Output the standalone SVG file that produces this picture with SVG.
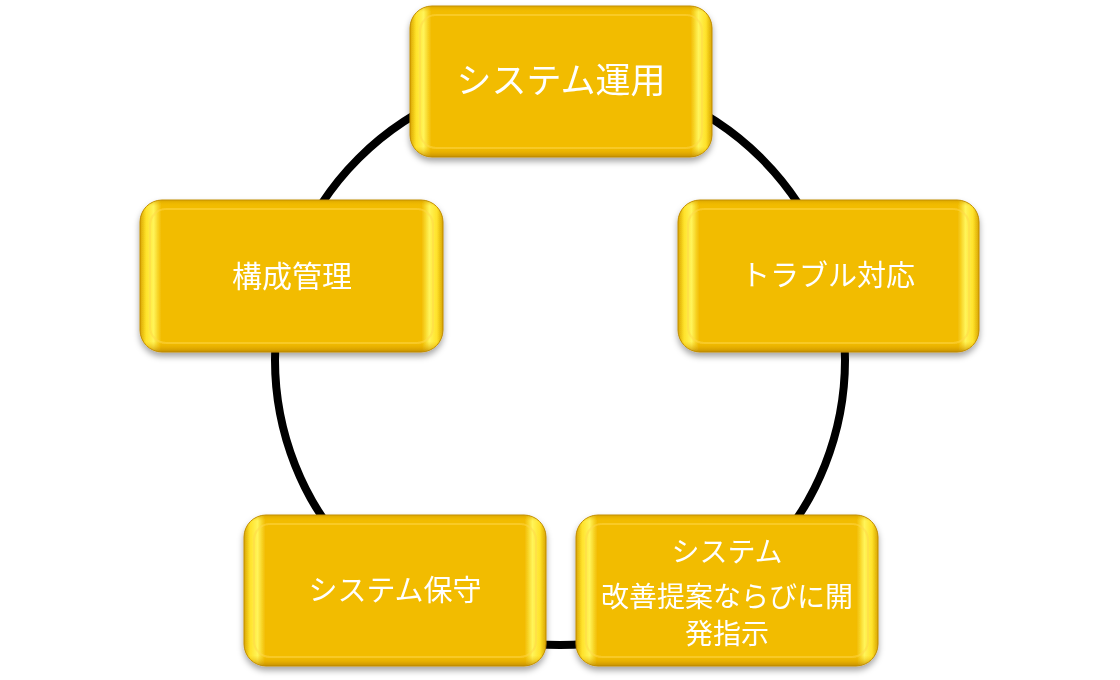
<svg xmlns="http://www.w3.org/2000/svg" width="1120" height="680" viewBox="0 0 1120 680">
<defs>
<linearGradient id="hx" x1="0" y1="0" x2="1" y2="0">
<stop offset="0" stop-color="#D9A500"/>
<stop offset="0.02" stop-color="#FFE22A"/>
<stop offset="0.045" stop-color="#FFF45A"/>
<stop offset="0.07" stop-color="#F2BC00"/>
<stop offset="0.93" stop-color="#F2BC00"/>
<stop offset="0.955" stop-color="#FFF45A"/>
<stop offset="0.98" stop-color="#FFE22A"/>
<stop offset="1" stop-color="#D9A500"/>
</linearGradient>
<linearGradient id="vy" x1="0" y1="0" x2="0" y2="1">
<stop offset="0" stop-color="#C89400" stop-opacity="0.6"/>
<stop offset="0.04" stop-color="#F2BC00" stop-opacity="0"/>
<stop offset="0.93" stop-color="#F2BC00" stop-opacity="0"/>
<stop offset="0.97" stop-color="#D9A000" stop-opacity="0.5"/>
<stop offset="1" stop-color="#B88400" stop-opacity="0.8"/>
</linearGradient>
<filter id="sh" x="-10%" y="-10%" width="120%" height="130%">
<feDropShadow dx="0" dy="4" stdDeviation="3" flood-color="#000" flood-opacity="0.35"/>
</filter>
</defs>
<style>
.box{fill:url(#hx);stroke:#C08C00;stroke-width:1}
.ov{fill:url(#vy)}
.in{fill:none;stroke:#FFD84A;stroke-width:2;stroke-opacity:0.5}
.t{font-family:"Noto Sans CJK JP","Noto Sans",sans-serif;fill:#FFFFFF;text-anchor:middle}
.conn{fill:none;stroke:#000;stroke-width:8}
</style>
<rect width="1120" height="680" fill="#FFFFFF"/>
<g id="connectors">
<circle class="conn" cx="560" cy="360" r="285"/>
</g>
<g id="node-unyou" filter="url(#sh)">
<rect class="box" x="410" y="6" width="302" height="151" rx="22"/>
<rect class="ov" x="410" y="6" width="302" height="151" rx="22"/>
<rect class="in" x="420" y="15" width="282" height="133" rx="16"/>
<text class="t" x="561" y="93" font-size="35">システム運用</text>
</g>
<g id="node-trouble" filter="url(#sh)">
<rect class="box" x="678" y="200" width="301" height="152" rx="22"/>
<rect class="ov" x="678" y="200" width="301" height="152" rx="22"/>
<rect class="in" x="688" y="209" width="281" height="134" rx="16"/>
<text class="t" x="828" y="286" font-size="29">トラブル対応</text>
</g>
<g id="node-kousei" filter="url(#sh)">
<rect class="box" x="140" y="200" width="303" height="152" rx="22"/>
<rect class="ov" x="140" y="200" width="303" height="152" rx="22"/>
<rect class="in" x="150" y="209" width="283" height="134" rx="16"/>
<text class="t" x="292" y="287" font-size="30">構成管理</text>
</g>
<g id="node-hoshu" filter="url(#sh)">
<rect class="box" x="244" y="515" width="302" height="151" rx="22"/>
<rect class="ov" x="244" y="515" width="302" height="151" rx="22"/>
<rect class="in" x="254" y="524" width="282" height="133" rx="16"/>
<text class="t" x="395" y="601" font-size="29">システム保守</text>
</g>
<g id="node-kaizen" filter="url(#sh)">
<rect class="box" x="576" y="515" width="302" height="151" rx="22"/>
<rect class="ov" x="576" y="515" width="302" height="151" rx="22"/>
<rect class="in" x="586" y="524" width="282" height="133" rx="16"/>
<text class="t" x="727" y="562" font-size="28">システム</text>
<text class="t" x="727" y="607" font-size="28">改善提案ならびに開</text>
<text class="t" x="727" y="644" font-size="28">発指示</text>
</g>
</svg>
